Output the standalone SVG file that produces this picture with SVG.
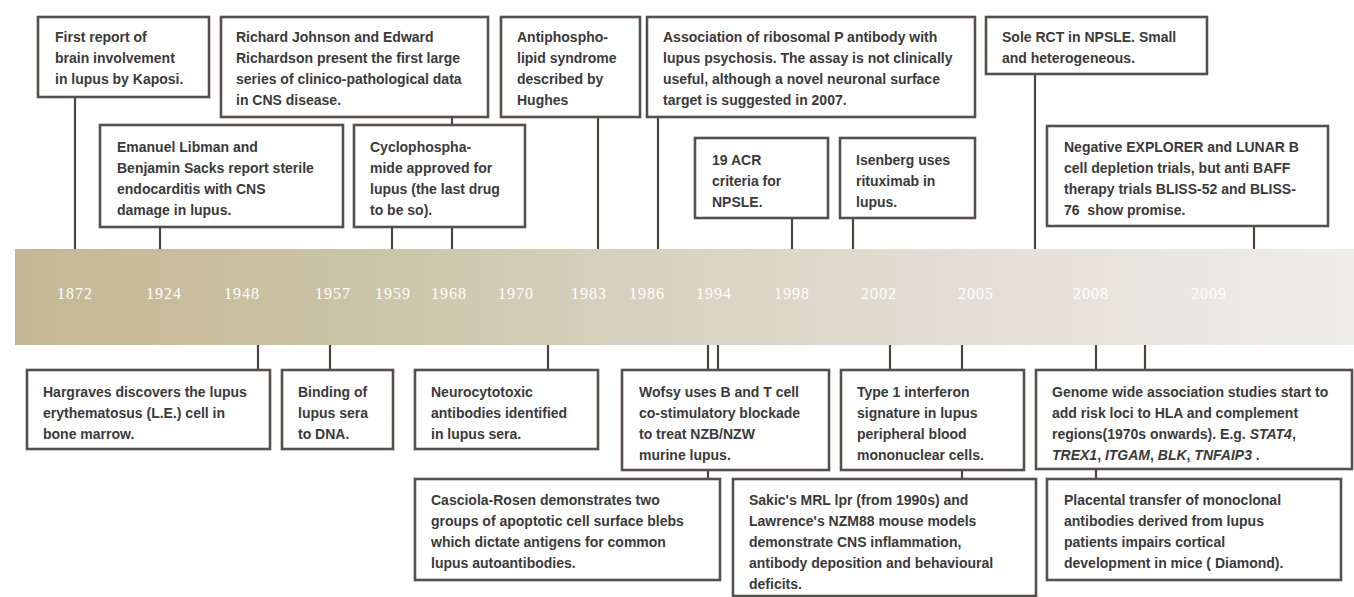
<svg xmlns="http://www.w3.org/2000/svg" width="1354" height="597" viewBox="0 0 1354 597">
<defs>
<linearGradient id="band" x1="0" y1="0" x2="1" y2="0">
<stop offset="0" stop-color="#c4b994"/>
<stop offset="0.25" stop-color="#cbc3a6"/>
<stop offset="0.45" stop-color="#d6d0be"/>
<stop offset="0.7" stop-color="#e2ded4"/>
<stop offset="1" stop-color="#efede8"/>
</linearGradient>
<style>
.box rect{fill:#fff;stroke:#55504d;stroke-width:2.6}
.box text{font-family:"Liberation Sans",Arial,sans-serif;font-size:14px;font-weight:bold;fill:#3a3a3a}
.conn line{stroke:#4a4542;stroke-width:2.2}
.yr{font-family:"Liberation Serif",serif;font-size:16px;fill:#fff;text-anchor:middle;letter-spacing:1px}
.it{font-style:italic}
</style>
</defs>
<rect width="1354" height="597" fill="#fff"/>
<rect id="band-bar" x="15" y="249" width="1339" height="96" fill="url(#band)"/>
<g id="years">
<text class="yr" x="75" y="299">1872</text>
<text class="yr" x="164" y="299">1924</text>
<text class="yr" x="242" y="299">1948</text>
<text class="yr" x="333" y="299">1957</text>
<text class="yr" x="393" y="299">1959</text>
<text class="yr" x="449" y="299">1968</text>
<text class="yr" x="516" y="299">1970</text>
<text class="yr" x="589" y="299">1983</text>
<text class="yr" x="647" y="299">1986</text>
<text class="yr" x="714" y="299">1994</text>
<text class="yr" x="792" y="299">1998</text>
<text class="yr" x="879" y="299">2002</text>
<text class="yr" x="976" y="299">2005</text>
<text class="yr" x="1091" y="299">2008</text>
<text class="yr" x="1209" y="299">2009</text>
</g>
<g id="connectors" class="conn">
<line x1="75" y1="97" x2="75" y2="249"/>
<line x1="452" y1="117" x2="452" y2="249"/>
<line x1="160" y1="227" x2="160" y2="249"/>
<line x1="392" y1="227" x2="392" y2="249"/>
<line x1="598" y1="117" x2="598" y2="249"/>
<line x1="658" y1="117" x2="658" y2="249"/>
<line x1="792" y1="218" x2="792" y2="249"/>
<line x1="853" y1="218" x2="853" y2="249"/>
<line x1="1035" y1="74" x2="1035" y2="249"/>
<line x1="1254" y1="226" x2="1254" y2="249"/>
<line x1="258" y1="345" x2="258" y2="370"/>
<line x1="330" y1="345" x2="330" y2="370"/>
<line x1="548" y1="345" x2="548" y2="370"/>
<line x1="708" y1="345" x2="708" y2="479"/>
<line x1="718" y1="345" x2="718" y2="370"/>
<line x1="890" y1="345" x2="890" y2="370"/>
<line x1="962" y1="345" x2="962" y2="479"/>
<line x1="1096" y1="345" x2="1096" y2="479"/>
<line x1="1145" y1="345" x2="1145" y2="370"/>
</g>
<g id="n1872" class="box"><rect x="38" y="17" width="171" height="80"/>
<text x="55" y="42">First report of</text><text x="55" y="63">brain involvement</text><text x="55" y="84">in lupus by Kaposi.</text></g>
<g id="n1968" class="box"><rect x="221" y="17" width="267" height="100"/>
<text x="236" y="42">Richard Johnson and Edward</text><text x="236" y="63">Richardson present the first large</text><text x="236" y="84">series of clinico-pathological data</text><text x="236" y="105">in CNS disease.</text></g>
<g id="n1924" class="box"><rect x="100" y="125" width="243" height="102"/>
<text x="117" y="152">Emanuel Libman and</text><text x="117" y="173">Benjamin Sacks report sterile</text><text x="117" y="194">endocarditis with CNS</text><text x="117" y="215">damage in lupus.</text></g>
<g id="n1959" class="box"><rect x="354" y="125" width="171" height="102"/>
<text x="370" y="152">Cyclophospha-</text><text x="370" y="173">mide approved for</text><text x="370" y="194">lupus (the last drug</text><text x="370" y="215">to be so).</text></g>
<g id="n1983" class="box"><rect x="501" y="17" width="139" height="100"/>
<text x="517" y="42">Antiphospho-</text><text x="517" y="63">lipid syndrome</text><text x="517" y="84">described by</text><text x="517" y="105">Hughes</text></g>
<g id="n1986" class="box"><rect x="647" y="17" width="328" height="100"/>
<text x="663" y="42">Association of ribosomal P antibody with</text><text x="663" y="63">lupus psychosis. The assay is not clinically</text><text x="663" y="84">useful, although a novel neuronal surface</text><text x="663" y="105">target is suggested in 2007.</text></g>
<g id="n1998" class="box"><rect x="695" y="138" width="133" height="80"/>
<text x="712" y="165">19 ACR</text><text x="712" y="186">criteria for</text><text x="712" y="207">NPSLE.</text></g>
<g id="n2002a" class="box"><rect x="840" y="138" width="135" height="80"/>
<text x="856" y="165">Isenberg uses</text><text x="856" y="186">rituximab in</text><text x="856" y="207">lupus.</text></g>
<g id="n2005a" class="box"><rect x="986" y="17" width="221" height="57"/>
<text x="1002" y="42">Sole RCT in NPSLE. Small</text><text x="1002" y="63">and heterogeneous.</text></g>
<g id="n2009" class="box"><rect x="1047" y="126" width="281" height="100"/>
<text x="1064" y="152">Negative EXPLORER and LUNAR B</text><text x="1064" y="173">cell depletion trials, but anti BAFF</text><text x="1064" y="194">therapy trials BLISS-52 and BLISS-</text><text x="1064" y="215" xml:space="preserve">76  show promise.</text></g>
<g id="n1948" class="box"><rect x="27" y="370" width="243" height="79"/>
<text x="43" y="397">Hargraves discovers the lupus</text><text x="43" y="418">erythematosus (L.E.) cell in</text><text x="43" y="439">bone marrow.</text></g>
<g id="n1957" class="box"><rect x="282" y="370" width="111" height="79"/>
<text x="298" y="397">Binding of</text><text x="298" y="418">lupus sera</text><text x="298" y="439">to DNA.</text></g>
<g id="n1970" class="box"><rect x="415" y="370" width="183" height="79"/>
<text x="431" y="397">Neurocytotoxic</text><text x="431" y="418">antibodies identified</text><text x="431" y="439">in lupus sera.</text></g>
<g id="n1994b" class="box"><rect x="622" y="370" width="207" height="100"/>
<text x="639" y="397">Wofsy uses B and T cell</text><text x="639" y="418">co-stimulatory blockade</text><text x="639" y="439">to treat NZB/NZW</text><text x="639" y="460">murine lupus.</text></g>
<g id="n2002b" class="box"><rect x="841" y="370" width="183" height="100"/>
<text x="857" y="397">Type 1 interferon</text><text x="857" y="418">signature in lupus</text><text x="857" y="439">peripheral blood</text><text x="857" y="460">mononuclear cells.</text></g>
<g id="n2008b" class="box"><rect x="1036" y="370" width="316" height="99"/>
<text x="1052" y="397">Genome wide association studies start to</text><text x="1052" y="418">add risk loci to HLA and complement</text><text x="1052" y="439">regions(1970s onwards). E.g. <tspan class="it">STAT4</tspan>,</text><text x="1052" y="460"><tspan class="it">TREX1</tspan>, <tspan class="it">ITGAM</tspan>, <tspan class="it">BLK</tspan>, <tspan class="it">TNFAIP3</tspan> .</text></g>
<g id="n1994a" class="box"><rect x="415" y="479" width="305" height="101"/>
<text x="431" y="505">Casciola-Rosen demonstrates two</text><text x="431" y="526">groups of apoptotic cell surface blebs</text><text x="431" y="547">which dictate antigens for common</text><text x="431" y="568">lupus autoantibodies.</text></g>
<g id="n2005b" class="box"><rect x="733" y="479" width="303" height="117"/>
<text x="749" y="505">Sakic's MRL lpr (from 1990s) and</text><text x="749" y="526">Lawrence's NZM88 mouse models</text><text x="749" y="547">demonstrate CNS inflammation,</text><text x="749" y="568">antibody deposition and behavioural</text><text x="749" y="589">deficits.</text></g>
<g id="n2008a" class="box"><rect x="1047" y="479" width="294" height="101"/>
<text x="1064" y="505">Placental transfer of monoclonal</text><text x="1064" y="526">antibodies derived from lupus</text><text x="1064" y="547">patients impairs cortical</text><text x="1064" y="568">development in mice ( Diamond).</text></g>
</svg>
